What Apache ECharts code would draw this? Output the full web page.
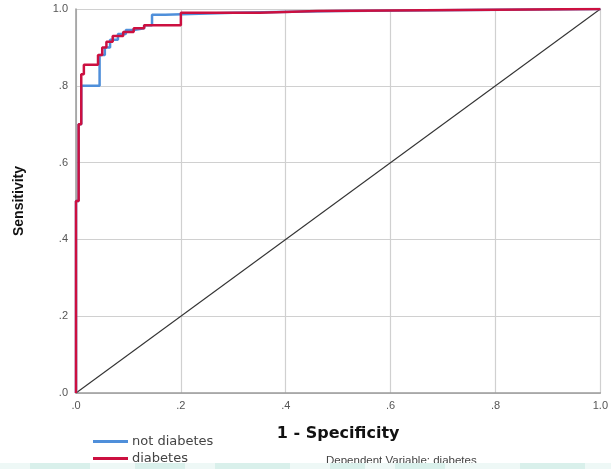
<!DOCTYPE html>
<html><head><meta charset="utf-8">
<script src="https://cdn.jsdelivr.net/npm/echarts@6/dist/echarts.min.js"></script>
<style>html,body{margin:0;padding:0;background:#fff}#c{width:611px;height:469px}</style>
</head><body><div id="c"></div>
<script>
const tickLabels = ['.0', '.2', '.4', '.6', '.8', '1.0'];
const notDiabetes = [[0,0],[0,0.5],[0.005,0.5],[0.005,0.7],[0.01,0.7],[0.01,0.8],[0.045,0.8],[0.045,0.88],[0.055,0.88],[0.055,0.9],[0.065,0.9],[0.065,0.92],[0.08,0.92],[0.08,0.935],[0.095,0.935],[0.095,0.945],[0.11,0.945],[0.11,0.95],[0.13,0.95],[0.13,0.958],[0.145,0.958],[0.145,0.985],[0.17,0.985],[0.17,0.99],[0.3,0.99],[0.3,0.995],[0.5,0.995],[0.5,1],[1,1]];
const diabetes = [[0,0],[0,0.5],[0.005,0.5],[0.005,0.7],[0.01,0.7],[0.01,0.83],[0.015,0.83],[0.015,0.855],[0.042,0.855],[0.042,0.88],[0.05,0.88],[0.05,0.9],[0.058,0.9],[0.058,0.915],[0.07,0.915],[0.07,0.93],[0.09,0.93],[0.09,0.94],[0.11,0.94],[0.11,0.95],[0.13,0.95],[0.13,0.958],[0.2,0.958],[0.2,0.99],[0.35,0.99],[0.35,0.995],[0.46,0.995],[0.46,1],[1,1]];
const reference = [[0,0],[1,1]];
const fmt = v => tickLabels[Math.round(v / 0.2)];
const chart = echarts.init(document.getElementById('c'));
const bandRects = [{type:'rect', left: 0, top: 463, z: 100,
  shape:{width: 611, height: 6}, style:{fill: '#eef8f6'}}];
const bandXs = [30, 135, 215, 330, 395, 520];
const bandWs = [60, 50, 75, 35, 50, 65];
for (let i = 0; i < bandXs.length; i++) {
  bandRects.push({type:'rect', left: bandXs[i], top: 463, z: 101,
    shape:{width: bandWs[i], height: 6}, style:{fill: '#d9f0eb'}});
}
chart.setOption({
  animation: false,
  textStyle: {fontFamily: 'Liberation Sans, Arial, sans-serif'},
  grid: {left: 76, right: 5, top: 9, bottom: 76},
  xAxis: {type: 'value', min: 0, max: 1, interval: 0.2,
    name: '1 - Specificity', nameLocation: 'middle', nameGap: 33,
    nameTextStyle: {fontSize: 16, fontWeight: 'bold', color: '#111', fontFamily: 'DejaVu Sans'},
    axisLine: {show: true, lineStyle: {color: '#9a9a9a', width: 1.5}},
    axisTick: {show: false},
    axisLabel: {formatter: fmt, fontSize: 11, color: '#555', margin: 7},
    splitLine: {show: true, lineStyle: {color: '#d0d0d0', width: 1.2}}},
  yAxis: {type: 'value', min: 0, max: 1, interval: 0.2,
    name: 'Sensitivity', nameLocation: 'middle', nameGap: 50,
    nameTextStyle: {fontSize: 14, fontWeight: 'bold', color: '#111'},
    axisLine: {show: true, lineStyle: {color: '#9a9a9a', width: 1.5}},
    axisTick: {show: false},
    axisLabel: {formatter: fmt, fontSize: 11, color: '#555', margin: 8},
    splitLine: {show: true, lineStyle: {color: '#d0d0d0', width: 1.2}}},
  legend: {show: true, orient: 'vertical', left: 93, top: 435, itemGap: 4,
    padding: 0, height: 40,
    itemWidth: 35, itemHeight: 3, icon: 'rect',
    textStyle: {fontSize: 13, color: '#444', padding: [0,0,0,-1], fontFamily: 'DejaVu Sans'},
    data: ['not diabetes', 'diabetes']},
  series: [
    {name: 'reference', type: 'line', data: reference, symbol: 'none',
     lineStyle: {color: '#333', width: 1.1}, z: 1},
    {name: 'not diabetes', type: 'line', data: notDiabetes, symbol: 'none',
     color: '#4f8fda', lineStyle: {color: '#4f8fda', width: 2.5}, z: 2},
    {name: 'diabetes', type: 'line', data: diabetes, symbol: 'none',
     color: '#cc1040', lineStyle: {color: '#cc1040', width: 2.5}, z: 3}
  ],
  graphic: [
    {type: 'text', left: 326, top: 455, z: 50,
     style: {text: 'Dependent Variable: diabetes', fontSize: 11.5, fill: '#444',
       fontFamily: 'Liberation Sans, Arial, sans-serif'}}
  ].concat(bandRects)
});
</script></body></html>
